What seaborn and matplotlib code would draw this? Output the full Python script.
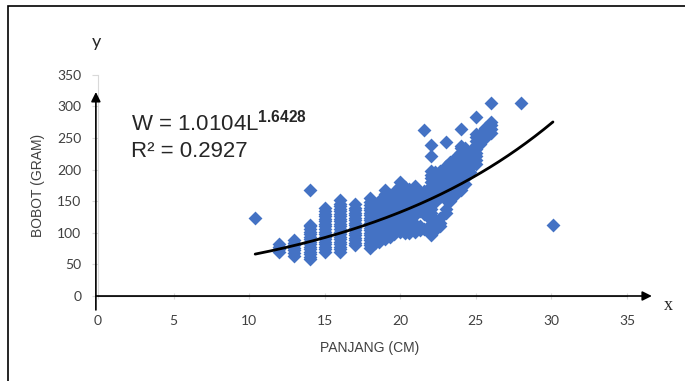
import numpy as np
import pandas as pd
import seaborn as sns
import matplotlib
matplotlib.use("Agg")
from matplotlib import pyplot as plt
from matplotlib.patches import Rectangle

kolom_panjang = [10.4, 12, 13, 14, 15, 16, 17, 18, 18.3, 18.6, 19, 19.3, 19.6,
                 20, 20.3, 20.6, 21, 21.3, 21.6, 22, 22.3, 22.6, 23, 23.3, 23.6,
                 24, 24.3, 24.6, 25, 25.3, 25.6, 26, 28, 30.1]
kolom_bobot = [
    [124],
    [70, 74, 78, 82],
    [64, 68, 72, 76, 80, 84, 88],
    [58, 62, 66, 70, 74, 78, 82, 86, 90, 94, 98, 102, 106, 110, 113, 168],
    [70, 74, 78, 82, 86, 90, 94, 98, 102, 106, 110, 114, 118, 122, 126, 130, 134, 140],
    [70, 74, 78, 82, 86, 90, 94, 98, 102, 106, 110, 114, 118, 122, 126, 130, 134, 138,
     142, 146, 152],
    [80, 84, 88, 92, 96, 100, 104, 108, 112, 116, 120, 124, 128, 132, 136, 140, 145],
    [76, 80, 84, 88, 92, 96, 100, 104, 108, 112, 116, 120, 124, 128, 132, 136, 140, 144,
     148, 155],
    [84, 90, 96, 102, 108, 114, 120, 126, 132, 138, 144],
    [86, 92, 98, 104, 110, 116, 122, 128, 134, 140, 146, 150],
    [90, 96, 102, 108, 114, 120, 126, 132, 138, 144, 150, 156, 162, 168],
    [94, 100, 106, 112, 118, 124, 130, 136, 142, 148, 154, 160],
    [98, 104, 110, 116, 122, 128, 134, 140, 146, 152, 158, 164],
    [102, 108, 114, 120, 126, 132, 138, 144, 150, 156, 162, 168, 174, 181],
    [100, 106, 112, 118, 124, 130, 136, 142, 148, 154, 160, 166, 172],
    [100, 106, 112, 118, 124, 130, 136, 142, 148, 154, 160, 166, 170],
    [102, 108, 114, 128, 134, 140, 146, 152, 158, 164, 170, 174],
    [104, 110, 134, 140, 146, 152, 158, 164],
    [106, 130, 136, 142, 148, 154, 160, 166, 262],
    [96, 102, 108, 114, 120, 126, 132, 138, 144, 150, 156, 162, 168, 174, 180, 186, 192,
     198, 222, 239],
    [104, 110, 116, 148, 154, 160, 166, 172, 178, 184, 190, 196],
    [110, 116, 124, 156, 162, 168, 174, 180, 186, 192, 198],
    [131, 138, 152, 158, 164, 170, 176, 182, 188, 194, 200, 206, 244],
    [150, 156, 162, 168, 174, 180, 186, 192, 198, 204, 212],
    [160, 166, 172, 178, 184, 190, 196, 212, 218],
    [168, 174, 180, 186, 192, 198, 204, 210, 216, 222, 228, 234, 238, 264],
    [178, 186, 194, 202, 210, 218, 226, 234],
    [196, 204, 212, 220, 228],
    [209, 215, 221, 227, 233, 239, 245, 251, 256, 283],
    [240, 248, 256],
    [250, 258, 266],
    [258, 264, 270, 276, 306],
    [306],
    [113],
]

# trendline as drawn (exponential)
trend_a = 31.25
trend_b = 0.0723

x_ticks = [0, 5, 10, 15, 20, 25, 30, 35]
y_ticks = [0, 50, 100, 150, 200, 250, 300, 350]

rows = []
for p, ws in zip(kolom_panjang, kolom_bobot):
    for w in ws:
        rows.append({"panjang": p, "bobot": w})
df = pd.DataFrame(rows)

sns.set_style("white")
plt.rcParams["font.family"] = ["Liberation Sans", "DejaVu Sans"]
plt.rcParams["mathtext.fontset"] = "custom"
plt.rcParams["mathtext.rm"] = "Liberation Sans"
plt.rcParams["mathtext.bf"] = "Liberation Sans:bold"

W, H = 685, 381
fig = plt.figure(figsize=(W / 100, H / 100), dpi=100)
ax = fig.add_axes([98 / W, (H - 296) / H, (627 - 98) / W, 221.2 / H])

sns.scatterplot(data=df, x="panjang", y="bobot", marker="D", s=50,
                color="#4472C4", linewidth=0, ax=ax, zorder=3)

xs = np.linspace(df["panjang"].min(), df["panjang"].max(), 200)
sns.lineplot(x=xs, y=trend_a * np.exp(trend_b * xs), color="black", lw=2,
             ax=ax, zorder=4)

ax.set_xlim(0, 35)
ax.set_ylim(0, 350)
ax.set_xticks(x_ticks)
ax.set_yticks(y_ticks)
ax.set_xlabel("")
ax.set_ylabel("")
for s in ["top", "right"]:
    ax.spines[s].set_visible(False)
ax.spines["left"].set_color("#D9D9D9")
ax.spines["bottom"].set_color("#808080")
ax.tick_params(axis="y", direction="out", length=4, color="#D9D9D9", pad=8,
               labelsize=10, labelcolor="#404040", left=True)
ax.tick_params(axis="x", direction="inout", length=5, color="#D9D9D9", pad=11,
               labelsize=10, labelcolor="#404040", bottom=True)
for lab in ax.get_xticklabels() + ax.get_yticklabels():
    lab.set_family(["Lato", "DejaVu Sans"])

# black arrows over the axes
ax.annotate("", xy=(1.047, 0), xytext=(-0.004, 0), xycoords="axes fraction",
            arrowprops=dict(arrowstyle="-|>", color="black", lw=1.2,
                            mutation_scale=14, shrinkA=0, shrinkB=0),
            annotation_clip=False, zorder=6)
ax.annotate("", xy=(-0.004, 0.922), xytext=(-0.004, -0.063), xycoords="axes fraction",
            arrowprops=dict(arrowstyle="-|>", color="black", lw=1.2,
                            mutation_scale=14, shrinkA=0, shrinkB=0),
            annotation_clip=False, zorder=6)

fig.text(96 / W, 1 - 42 / H, "y", family=["Lato", "DejaVu Sans"], fontsize=13,
         ha="center", va="center")
fig.text(668 / W, 1 - 306 / H, "x", family="Liberation Serif", fontsize=13,
         ha="center", va="center")

fig.text(370 / W, 1 - 348 / H, "PANJANG (CM)", fontsize=10, color="#404040",
         ha="center", va="center")
fig.text(38 / W, 1 - 185 / H, "BOBOT (GRAM)", fontsize=10, color="#404040",
         ha="center", va="center", rotation=90)

fig.text(131 / W, 1 - 131 / H, r"W = 1.0104L$^{\mathbf{1.6428}}$", fontsize=16,
         ha="left", va="baseline")
fig.text(131 / W, 1 - 157 / H, "R² = 0.2927", fontsize=16, ha="left", va="baseline")

fig.patches.append(Rectangle((8 / W, -0.5), 2.0, 1.5 - 6 / H,
                             transform=fig.transFigure, fill=False,
                             ec="black", lw=1.2))

plt.savefig("out.png", dpi=100)
